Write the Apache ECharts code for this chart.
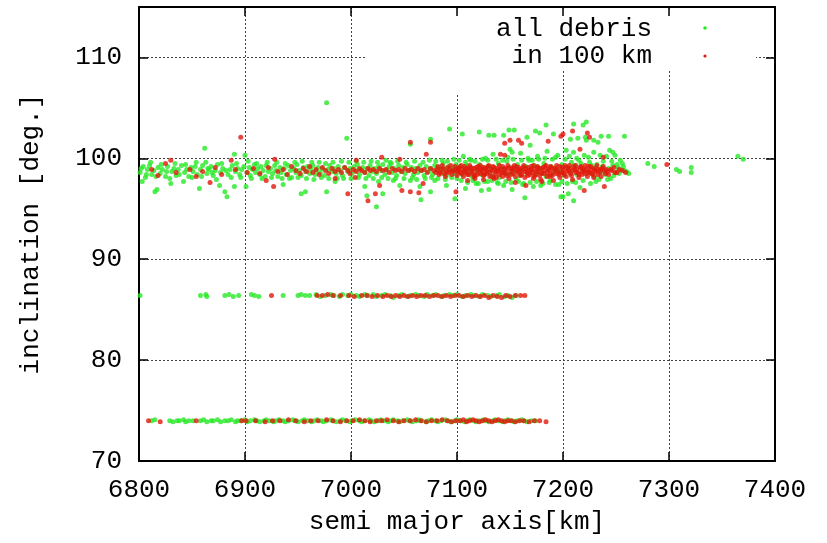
<!DOCTYPE html>
<html><head><meta charset="utf-8">
<script src="https://cdn.jsdelivr.net/npm/echarts@6/dist/echarts.min.js"></script>
<style>html,body{margin:0;padding:0;background:#fff}#c{width:827px;height:543px}</style>
</head><body><div id="c"></div>
<script>
// x tick labels / y tick labels
const xTicks = [6800, 6900, 7000, 7100, 7200, 7300, 7400];
const yTicks = [70, 80, 90, 100, 110];
const seriesNames = ['all debris', 'in 100 km'];

// all debris, ~99 deg band
const allBand99 = [
[6801,98.6],[6803,97.7],[6804,99.2],[6806,98.1],[6808,98.9],[6810,99.3],[6812,98.4],[6814,98.8],[6815,96.7],[6817,96.9],[6818,99.1],[6820,98.5],[6822,98.9],[6825,98.2],[6827,99.2],[6830,97.5],[6831,98.7],[6833,99.0],[6835,98.3],[6837,98.9],[6840,99.3],[6842,97.7],[6843,98.6],[6845,98.9],[6847,98.2],[6849,99.1],
[6851,98.7],[6853,99.2],[6855,98.4],[6857,97.0],[6858,98.9],[6860,99.3],[6862,101.0],[6863,99.6],[6864,98.5],[6866,98.9],[6868,99.2],[6870,98.3],[6872,98.8],[6874,99.4],[6876,97.3],[6877,98.6],[6879,99.0],[6881,96.7],[6883,96.2],[6884,98.4],[6886,98.9],[6888,99.3],[6890,100.4],[6890,97.2],[6891,98.7],[6893,99.0],[6895,98.4],[6897,98.9],[6899,99.2],
[6900,100.3],[6901,97.2],[6902,98.6],[6904,99.1],[6905,98.3],[6907,98.9],[6909,99.4],[6910,98.6],[6912,99.0],[6914,98.4],[6915,99.2],[6917,98.8],[6919,98.2],[6920,99.3],[6922,98.7],[6924,99.0],[6926,98.5],[6928,99.3],[6929,98.8],[6931,98.2],[6933,99.1],[6934,98.6],[6936,97.4],[6937,99.0],[6939,98.4],[6941,99.3],[6943,98.8],[6944,98.1],[6946,99.0],[6948,98.6],[6949,99.4],
[6951,98.8],[6953,96.5],[6953,98.3],[6955,99.1],[6957,96.7],[6957,98.7],[6959,99.2],[6961,98.5],[6962,98.9],[6964,99.3],[6966,98.4],[6967,98.8],[6969,99.1],[6971,98.6],[6973,99.0],[6975,98.3],[6977,105.5],[6977,96.7],[6978,98.9],[6980,99.3],[6982,98.7],[6984,99.0],[6985,97.7],[6986,98.5],[6988,99.2],[6990,98.8],[6992,98.3],[6994,99.1],[6996,102.0],[6997,98.7],[6999,99.0],
[7001,98.5],[7003,99.2],[7004,98.8],[7006,99.4],[7008,98.4],[7009,98.9],[7011,99.1],[7013,97.2],[7013,98.6],[7015,96.3],[7015,99.0],[7017,98.3],[7018,99.3],[7020,98.7],[7022,99.0],[7024,95.2],[7024,98.5],[7026,97.7],[7026,99.2],[7028,98.8],[7030,96.5],[7030,99.4],[7032,98.4],[7034,98.9],[7036,99.2],[7037,99.6],[7039,98.6],[7040,97.8],[7041,99.0],[7043,98.3],[7045,99.3],[7046,97.3],[7047,98.7],[7049,99.1],
[7051,98.5],[7053,99.4],[7055,98.8],[7056,101.4],[7056,97.8],[7057,99.1],[7059,98.4],[7061,99.0],[7063,98.6],[7065,97.2],[7065,99.3],[7066,95.9],[7067,98.8],[7069,98.3],[7071,99.2],[7073,98.7],[7075,101.9],[7075,96.7],[7075,99.0],[7077,98.4],[7079,97.8],[7079,99.3],[7081,98.8],[7083,99.1],[7085,98.5],[7087,99.5],[7088,98.9],[7090,97.3],[7090,98.3],[7092,99.2],[7093,102.9],[7094,98.7],[7096,99.0],[7098,96.0],[7098,98.5],[7099,99.4],
[7101,98.8],[7103,99.2],[7105,102.4],[7105,98.4],[7106,100.2],[7107,98.9],[7108,97.0],[7109,99.3],[7111,98.6],[7113,99.8],[7114,98.2],[7116,99.0],[7118,97.5],[7119,98.7],[7121,102.6],[7121,99.4],[7123,96.8],[7123,98.4],[7125,99.1],[7127,100.0],[7128,98.7],[7129,97.7],[7130,102.3],[7130,96.9],[7131,99.2],[7132,98.3],[7134,100.4],[7135,102.3],[7136,98.9],[7138,97.6],[7139,99.5],[7140,98.1],[7142,99.0],[7144,102.3],[7144,97.3],[7145,98.6],[7147,99.7],[7149,102.8],[7149,98.4],
[7150,100.9],[7152,100.6],[7152,96.9],[7152,99.1],[7154,102.8],[7154,98.7],[7156,97.9],[7157,99.4],[7159,98.3],[7160,100.5],[7161,98.9],[7163,97.5],[7164,96.1],[7165,99.2],[7166,102.1],[7166,98.5],[7168,99.8],[7169,101.3],[7170,98.8],[7172,97.2],[7173,99.3],[7174,102.7],[7175,98.4],[7176,100.2],[7178,102.5],[7178,99.0],[7179,97.3],[7180,98.6],[7182,99.5],[7184,103.3],[7184,98.2],[7185,100.7],[7186,98.9],[7188,97.8],[7189,99.2],[7191,102.4],[7191,98.5],[7193,100.1],[7194,99.0],[7196,97.4],[7197,98.7],[7198,96.2],[7199,99.4],
[7200,96.2],[7201,98.3],[7203,100.8],[7205,96.5],[7205,99.1],[7207,101.9],[7207,98.6],[7209,97.7],[7210,103.4],[7210,100.6],[7210,95.8],[7211,99.3],[7213,98.4],[7214,102.0],[7215,99.8],[7216,97.1],[7218,98.9],[7219,103.3],[7220,100.3],[7221,102.1],[7222,103.6],[7222,101.8],[7223,98.5],[7225,99.6],[7226,97.5],[7228,99.1],[7229,101.8],[7229,100.6],[7230,98.2],[7232,99.4],[7233,101.6],[7234,97.9],[7236,102.2],[7236,98.7],[7238,99.7],[7240,98.4],[7241,100.2],[7243,102.2],[7243,99.0],[7244,100.8],[7245,98.0],[7247,100.6],[7247,99.3],[7249,100.3],[7250,98.6],[7252,99.1],[7254,99.8],[7256,99.5],[7258,102.2],[7258,98.8],[7262,98.5],
[7280,99.5],[7286,99.2],[7307,98.9],[7310,98.7],[7321,99.1],[7321,98.6],[7365,100.2],[7370,99.9]
];
// all debris, ~99 deg band, edges of the dense strip
const allBand99Core = [
[6802,99.0],[6807,98.4],[6811,99.6],[6816,98.2],[6821,99.4],[6826,98.7],[6829,98.0],[6834,99.5],[6838,98.4],[6844,99.4],[6850,98.1],[6854,99.6],[6859,98.2],[6865,99.0],[6869,98.6],[6873,97.9],[6878,99.5],[6882,98.8],[6887,98.1],[6892,99.5],[6896,98.1],[6903,99.7],[6906,98.0],[6911,99.5],[6916,98.0],[6921,99.6],[6925,98.1],[6930,99.6],[6935,98.0],[6938,99.5],[6942,98.0],[6947,99.6],[6950,98.1],[6954,99.7],[6958,98.0],[6963,99.6],[6965,97.9],[6970,99.6],[6972,98.1],[6976,99.5],[6979,98.0],[6983,99.6],[6987,98.0],[6991,99.7],[6993,98.0],[6998,99.6],
[7000,98.0],[7005,99.7],[7007,98.1],[7012,99.6],[7014,98.0],[7019,99.7],[7021,98.0],[7025,99.6],[7029,98.1],[7033,99.8],[7035,98.0],[7038,99.5],[7042,98.0],[7044,99.7],[7050,98.0],[7052,99.6],[7058,98.1],[7060,99.7],[7062,97.9],[7068,99.6],[7070,98.0],[7074,99.8],[7076,98.1],[7080,99.7],[7082,98.0],[7086,99.8],[7089,97.9],[7091,99.7],[7095,98.1],[7097,99.9],
[7100,98.0],[7102,99.8],[7104,97.8],[7108,99.6],[7110,97.6],[7112,99.9],[7115,97.8],[7117,99.7],[7120,97.5],[7124,99.9],[7126,97.7],[7129,99.8],[7133,97.8],[7137,99.9],[7139,97.5],[7143,99.8],[7146,97.7],[7148,100.1],[7151,97.6],[7153,99.9],[7158,97.7],[7161,99.8],[7162,97.4],[7167,100.0],[7169,97.6],[7171,99.8],[7175,97.7],[7177,99.9],[7181,97.5],[7183,100.0],[7187,97.6],[7190,99.9],[7193,97.4],[7195,100.3],[7199,97.7],
[7202,99.9],[7204,97.5],[7206,100.2],[7208,99.6],[7212,97.6],[7213,100.0],[7217,99.5],[7219,97.8],[7224,100.1],[7227,99.3],[7231,97.7],[7235,100.3],[7237,99.2],[7242,97.9],[7246,99.7],[7248,98.3],[7251,99.4],[7253,98.5],[7255,98.9],[7257,99.2],[7260,98.7]
];
// all debris, ~86.4 deg band
const allBand86 = [
[6801,86.4],[6858,86.4],[6863,86.5],[6864,86.3],[6881,86.4],[6885,86.5],[6889,86.3],[6894,86.4],[6906,86.5],[6909,86.4],[6913,86.3],[6936,86.4],[6950,86.4],[6953,86.5],[6957,86.4],[6961,86.4],[6967,86.5],[6971,86.3],[6976,86.4],[6981,86.5],[6984,86.4],[6989,86.3],[6992,86.5],[6997,86.4],[7000,86.5],[7005,86.4],[7008,86.3],[7013,86.5],[7016,86.4],[7021,86.5],[7024,86.3],[7029,86.4],[7032,86.5],[7037,86.4],[7040,86.2],[7045,86.4],[7048,86.5],[7053,86.3],[7056,86.4],[7061,86.5],[7064,86.4],[7069,86.3],[7072,86.5],[7077,86.4],[7080,86.5],[7085,86.3],[7088,86.4],[7093,86.5],[7096,86.4],[7100,86.5],[7105,86.3],[7108,86.4],[7113,86.5],[7116,86.4],[7121,86.3],[7124,86.5],[7129,86.4],[7132,86.3],[7137,86.4],[7140,86.5],[7145,86.3],[7148,86.4],[7152,86.2],[7156,86.4]
];
// all debris, ~74 deg band
const allBand74 = [
[6812,74.0],[6815,74.1],[6829,74.0],[6832,73.9],[6836,74.0],[6838,74.0],[6842,74.1],[6844,73.9],[6847,74.0],[6851,74.0],[6858,74.0],[6861,74.1],[6864,73.9],[6868,74.0],[6870,74.0],[6874,74.1],[6877,73.9],[6881,74.0],[6884,74.0],[6887,74.1],[6891,73.9],[6893,74.0],[6896,74.0],[6900,74.1],[6902,73.9],[6905,74.0],[6909,74.1],[6911,74.0],[6914,73.9],[6918,74.0],[6920,74.1],[6923,74.0],[6927,73.9],[6929,74.0],[6932,74.1],[6936,74.0],[6938,73.9],[6941,74.0],[6945,74.1],[6947,74.0],[6950,73.9],[6954,74.0],[6956,74.1],[6959,74.0],[6963,73.9],[6965,74.0],[6968,74.1],[6972,74.0],[6974,73.9],[6977,74.0],[6981,74.1],[6983,74.0],[6986,73.9],[6990,74.0],[6992,74.1],[6995,74.0],[6999,73.9],[7001,74.0],[7004,74.1],[7008,74.0],[7010,73.9],[7013,74.0],[7017,74.1],[7019,74.0],[7022,73.9],[7026,74.0],[7028,74.1],[7031,74.0],[7035,73.9],[7037,74.0],[7040,74.1],[7044,74.0],[7046,73.9],[7049,74.0],[7053,74.1],[7055,74.0],[7058,73.9],[7062,74.0],[7064,74.1],[7067,74.0],[7071,73.9],[7073,74.0],[7076,74.1],[7080,74.0],[7082,73.9],[7085,74.0],[7089,74.1],[7091,74.0],[7094,73.9],[7098,74.0],[7100,74.1],[7103,74.0],[7107,73.9],[7109,74.0],[7112,74.1],[7116,74.0],[7118,73.9],[7121,74.0],[7125,74.1],[7127,74.0],[7130,73.9],[7134,74.0],[7136,74.1],[7139,74.0],[7143,73.9],[7145,74.0],[7148,74.1],[7152,74.0],[7154,73.9],[7157,74.0],[7161,74.1],[7163,74.0],[7166,73.9],[7170,74.0],[7174,74.0]
];
// within 100 km, ~99 deg band
const nearBand99 = [
[6812,98.9],[6818,98.3],[6825,99.5],[6830,99.8],[6835,98.6],[6848,98.9],[6854,98.2],[6860,98.7],[6867,97.6],[6872,99.1],[6878,98.4],[6887,99.8],[6891,98.9],[6896,102.1],[6902,98.6],[6908,99.0],[6914,98.5],[6920,97.8],[6922,99.1],[6927,97.2],[6928,99.9],[6931,98.7],[6936,98.9],[6940,98.4],[6944,99.2],[6948,98.8],
[6952,98.5],[6955,99.0],[6958,98.7],[6961,99.2],[6964,98.6],[6967,98.9],[6970,98.4],[6973,99.1],[6976,98.8],[6979,98.5],[6982,99.0],[6985,98.0],[6985,98.7],[6988,98.9],[6991,98.6],[6994,99.1],[6997,96.5],[6997,98.8],[6999,98.5],
[7002,98.9],[7004,98.1],[7005,99.8],[7005,98.7],[7008,99.0],[7010,98.8],[7013,98.6],[7016,95.8],[7016,99.0],[7018,98.8],[7021,98.9],[7023,96.5],[7024,98.7],[7027,97.3],[7027,99.0],[7029,100.1],[7030,98.8],[7033,98.9],[7036,98.6],[7039,99.0],[7042,98.8],[7045,98.9],[7046,99.9],[7048,96.8],[7048,98.7],[7051,99.0],[7054,98.8],[7056,101.6],[7056,96.7],[7057,98.9],[7060,98.7],[7063,99.0],[7064,96.6],[7066,98.8],[7068,97.5],[7069,98.9],[7071,100.4],[7072,98.6],[7075,101.6],[7075,99.0],[7078,98.8],[7081,98.9],[7084,98.6],[7087,99.0],[7090,98.7],[7093,98.9],[7096,98.8],[7099,96.7],[7099,98.9],
[7101,98.7],[7102,99.1],[7104,98.5],[7105,98.9],[7107,99.2],[7108,98.6],[7110,98.9],[7110,97.8],[7111,98.4],[7113,99.1],[7114,98.7],[7116,99.0],[7117,98.3],[7117,98.0],[7119,98.8],[7120,99.2],[7122,98.5],[7123,98.9],[7125,99.1],[7125,97.9],[7126,98.4],[7128,98.8],[7129,99.2],[7131,98.6],[7132,98.9],[7134,98.2],[7135,99.1],[7135,98.0],[7137,98.7],[7138,99.0],[7140,98.4],[7141,98.9],[7141,100.4],[7143,99.2],[7144,98.6],[7145,100.3],[7145,101.5],[7146,98.9],[7147,98.3],[7149,99.1],[7150,98.7],[7150,101.8],[7152,99.0],[7153,98.5],[7155,98.9],[7155,97.6],[7156,99.2],[7158,101.8],[7158,98.6],[7159,98.9],[7161,101.5],[7161,98.4],[7162,99.1],[7164,98.7],[7165,99.0],[7165,97.3],[7167,98.3],[7168,98.8],[7170,99.2],[7171,98.6],[7172,98.0],[7173,98.9],[7174,98.4],[7176,99.1],[7177,98.7],[7179,99.0],[7180,98.5],[7180,97.7],[7182,98.8],[7183,99.2],[7185,98.6],[7186,98.9],[7186,101.7],[7188,98.2],[7188,98.4],[7189,99.1],[7191,98.7],[7192,99.0],[7194,98.5],[7195,98.8],[7197,99.2],[7198,98.6],[7198,102.2],[7200,98.9],[7200,102.4],[7201,98.4],[7203,99.1],[7204,98.7],[7206,99.0],[7207,98.5],[7209,98.8],[7209,102.7],[7210,99.2],[7212,98.6],[7213,98.9],[7215,98.4],[7216,100.9],[7216,99.1],[7218,98.7],[7219,99.0],[7220,96.8],[7221,98.5],[7222,98.9],[7223,102.5],[7224,99.2],[7225,102.1],[7225,98.6],[7227,98.9],[7228,98.4],[7230,99.0],[7231,98.7],[7233,98.9],[7235,98.6],[7237,99.0],[7238,100.1],[7239,97.2],[7239,98.8],[7242,98.7],[7245,98.9],[7249,98.6],[7253,98.9],[7256,98.8],[7259,98.6],[7298,99.4]
];
// within 100 km, ~99 deg band, the thick dense strip
const nearBand99Core = [
[7080,98.6],[7082,99.2],[7083,98.4],[7085,98.9],[7086,99.3],[7088,98.5],[7089,98.2],[7091,99.1],[7092,98.6],[7094,99.3],[7095,98.4],[7097,98.7],[7098,99.2],[7100,98.3],[7101,99.0],[7103,98.6],[7104,99.3],[7106,98.2],[7107,98.7],[7109,99.0],[7110,98.4],[7112,99.3],[7113,98.9],[7115,98.5],[7116,98.2],[7118,99.1],[7119,98.4],[7121,98.9],[7122,99.3],[7124,98.7],[7125,98.3],[7127,99.0],[7128,98.5],[7130,99.3],[7131,98.2],[7133,98.8],[7134,99.2],[7136,98.5],[7137,98.1],[7139,98.8],[7140,99.3],[7142,98.6],[7143,98.2],[7145,99.0],[7146,98.5],[7148,99.3],[7149,98.0],[7151,98.4],[7152,98.9],[7154,99.3],[7155,98.2],[7157,98.7],[7158,99.1],[7160,98.3],[7161,98.8],[7163,99.3],[7164,98.1],[7166,98.6],[7167,99.1],[7169,98.4],[7170,98.9],[7172,99.3],[7173,98.2],[7175,98.7],[7176,99.2],[7178,98.3],[7179,97.9],[7181,99.1],[7182,98.5],[7184,99.3],[7185,98.2],[7187,98.8],[7188,99.2],[7190,98.3],[7191,97.8],[7193,98.9],[7194,99.3],[7196,98.4],[7197,98.1],[7199,99.1],[7200,98.6],[7202,99.3],[7203,98.2],[7205,98.8],[7206,99.3],[7208,98.3],[7209,97.9],[7211,98.9],[7212,99.3],[7214,98.6],[7215,98.1],[7217,99.2],[7218,98.4],[7220,98.8],[7221,99.3],[7223,98.2],[7224,98.7],[7226,99.2],[7227,98.5],[7229,98.1],[7230,98.8],[7232,99.3],[7233,98.4],[7235,98.9],[7236,98.2],[7238,99.2],[7240,98.5],[7241,98.9],[7243,98.4],[7246,98.8],[7248,99.1],[7251,98.6]
];
// within 100 km, ~86.4 deg band
const nearBand86 = [
[6925,86.4],[6968,86.4],[6973,86.4],[6978,86.5],[6983,86.4],[6990,86.4],[6998,86.4],[7003,86.3],[7010,86.4],[7015,86.4],[7020,86.3],[7025,86.4],[7030,86.3],[7034,86.4],[7038,86.3],[7042,86.4],[7046,86.3],[7050,86.4],[7054,86.3],[7058,86.4],[7062,86.3],[7066,86.4],[7070,86.4],[7074,86.3],[7078,86.4],[7082,86.4],[7086,86.3],[7090,86.4],[7094,86.3],[7098,86.4],[7102,86.4],[7106,86.3],[7110,86.4],[7114,86.3],[7118,86.4],[7122,86.3],[7126,86.4],[7130,86.2],[7134,86.4],[7138,86.3],[7142,86.2],[7146,86.4],[7150,86.3],[7155,86.4],[7160,86.4],[7164,86.4]
];
// within 100 km, ~74 deg band
const nearBand74 = [
[6809,74.0],[6820,73.9],[6854,74.0],[6897,74.0],[6901,74.0],[6910,74.0],[6919,73.9],[6926,74.0],[6933,74.0],[6941,74.1],[6948,74.0],[6956,73.9],[6962,74.0],[6969,74.0],[6977,74.1],[6983,74.0],[6990,73.9],[6996,74.0],[7002,74.0],[7008,74.1],[7013,74.0],[7018,73.9],[7024,74.0],[7029,74.0],[7034,74.1],[7040,74.0],[7045,73.9],[7050,74.0],[7056,74.0],[7061,74.1],[7066,74.0],[7071,73.9],[7076,74.0],[7081,74.0],[7086,74.1],[7091,74.0],[7095,73.9],[7099,74.0],[7103,74.0],[7106,74.1],[7109,73.9],[7112,74.0],[7115,74.1],[7118,74.0],[7121,73.9],[7124,74.0],[7127,74.1],[7130,74.0],[7133,73.9],[7136,74.0],[7139,74.1],[7142,74.0],[7145,73.9],[7148,74.0],[7151,74.0],[7155,73.9],[7159,74.0],[7163,74.0],[7168,73.9],[7173,74.0],[7178,74.0],[7184,73.9]
];

const GREEN = '#26e826', RED = '#e2180c';
const FONT = '"Liberation Mono", "DejaVu Sans Mono", monospace';

const chart = echarts.init(document.getElementById('c'), null, {renderer: 'canvas'});
const axisBase = {
  type: 'value', min: xTicks[0], max: xTicks[xTicks.length - 1], interval: xTicks[1] - xTicks[0]
};
const yBase = {
  type: 'value', min: yTicks[0], max: 115, interval: yTicks[1] - yTicks[0]
};
chart.setOption({
  animation: false,
  backgroundColor: '#fff',
  grid: {left: 139, right: 52, top: 7, bottom: 82, containLabel: false},
  xAxis: [
    Object.assign({}, axisBase, {
      position: 'bottom', z: 0,
      name: 'semi major axis[km]', nameLocation: 'middle', nameGap: 48,
      nameTextStyle: {fontFamily: FONT, fontSize: 26, color: '#000'},
      axisLine: {show: true, onZero: false, lineStyle: {color: '#000', width: 2}},
      axisTick: {show: true, inside: true, length: 9, lineStyle: {color: '#000', width: 1.5}},
      axisLabel: {show: true, margin: 16, fontFamily: FONT, fontSize: 26, color: '#000', showMaxLabel: true, showMinLabel: true,
        formatter: v => String(v)},
      splitLine: {show: true, lineStyle: {color: '#444', width: 1, type: [2, 2]}}
    }),
    Object.assign({}, axisBase, {
      position: 'top', z: 5,
      axisLine: {show: true, onZero: false, lineStyle: {color: '#000', width: 2}},
      axisTick: {show: true, inside: true, length: 9, lineStyle: {color: '#000', width: 1.5}},
      axisLabel: {show: false}, splitLine: {show: false}
    })
  ],
  yAxis: [
    Object.assign({}, yBase, {
      position: 'left', z: 0,
      name: 'inclination [deg.]', nameLocation: 'middle', nameGap: 95, nameRotate: 90,
      nameTextStyle: {fontFamily: FONT, fontSize: 26, color: '#000'},
      axisLine: {show: true, onZero: false, lineStyle: {color: '#000', width: 2}},
      axisTick: {show: true, inside: true, length: 9, lineStyle: {color: '#000', width: 1.5}},
      axisLabel: {show: true, margin: 17, fontFamily: FONT, fontSize: 26, color: '#000', showMaxLabel: false,
        formatter: v => (yTicks.indexOf(v) >= 0 ? String(v) : '')},
      splitLine: {show: true, lineStyle: {color: '#444', width: 1, type: [2, 2]}}
    }),
    Object.assign({}, yBase, {
      position: 'right', z: 5,
      axisLine: {show: true, onZero: false, lineStyle: {color: '#000', width: 2}},
      axisTick: {show: true, inside: true, length: 9, lineStyle: {color: '#000', width: 1.5}},
      axisLabel: {show: false}, splitLine: {show: false}
    })
  ],
  graphic: [
    {type: 'rect', z: 1, shape: {x: 366, y: 9, width: 390, height: 61}, style: {fill: '#fff'}},
    {type: 'rect', z: 1, shape: {x: 450, y: 69, width: 14, height: 24}, style: {fill: '#fff'}},
    {type: 'text', z: 6, x: 652, y: 29, style: {text: seriesNames[0], font: '26px ' + FONT, fill: '#000', textAlign: 'right', textVerticalAlign: 'middle'}},
    {type: 'text', z: 6, x: 652, y: 56, style: {text: seriesNames[1], font: '26px ' + FONT, fill: '#000', textAlign: 'right', textVerticalAlign: 'middle'}},
    {type: 'circle', z: 6, shape: {cx: 705, cy: 28, r: 1.8}, style: {fill: GREEN}},
    {type: 'circle', z: 6, shape: {cx: 705, cy: 56, r: 1.6}, style: {fill: RED}}
  ],
  series: [
    {name: seriesNames[0], type: 'scatter', xAxisIndex: 0, yAxisIndex: 0, symbol: 'circle', symbolSize: 5,
     itemStyle: {color: GREEN}, data: allBand99.concat(allBand99Core, allBand86, allBand74), z: 2},
    {name: seriesNames[1], type: 'scatter', xAxisIndex: 0, yAxisIndex: 0, symbol: 'circle', symbolSize: 5,
     itemStyle: {color: RED}, data: nearBand99.concat(nearBand99Core, nearBand86, nearBand74), z: 3}
  ]
});
</script></body></html>
